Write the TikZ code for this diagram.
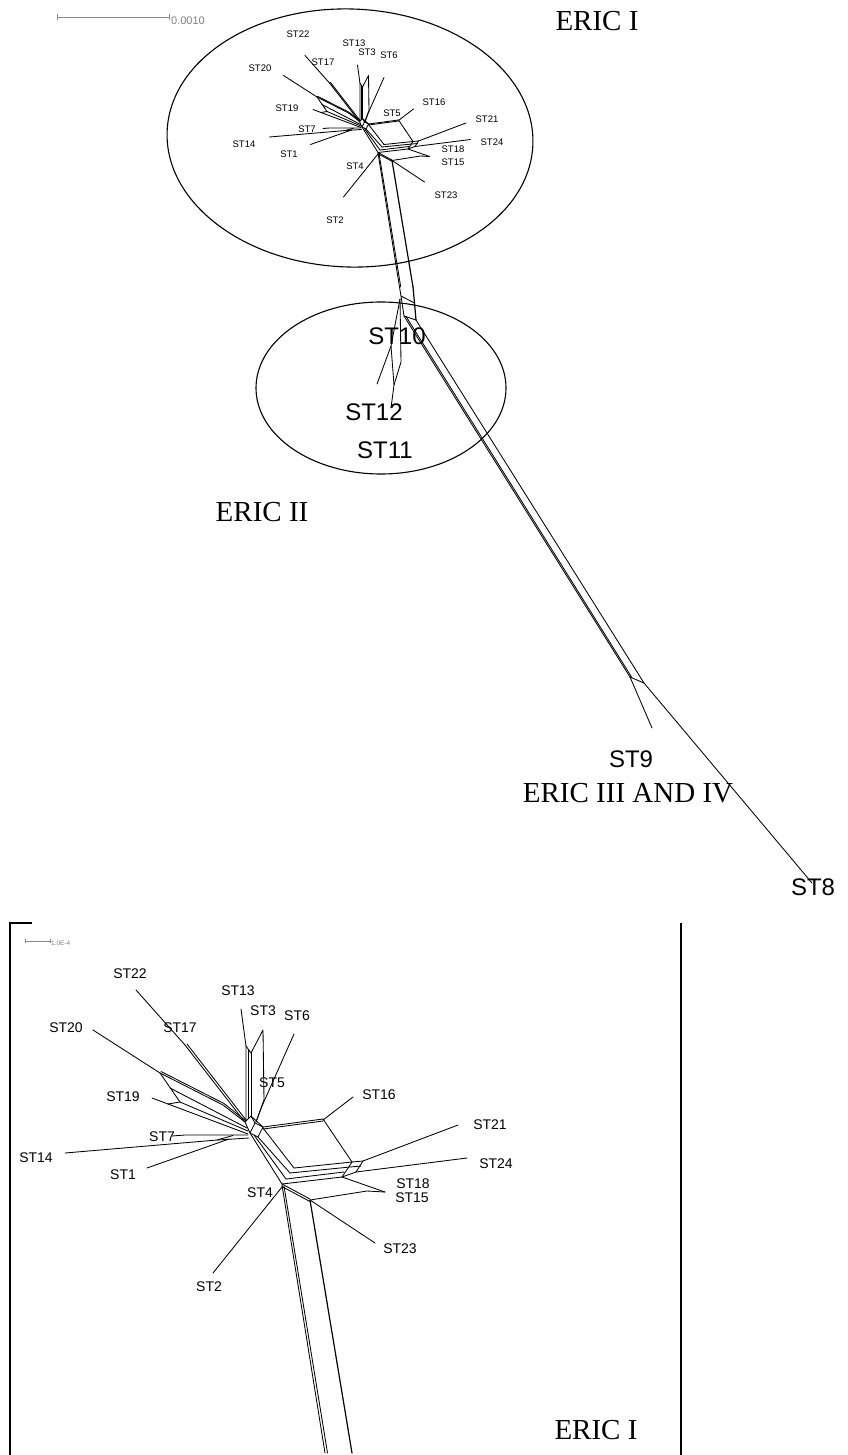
\documentclass[tikz,border=0pt]{standalone}
\usepackage{fontspec}
\setmainfont{Liberation Serif}
\newfontfamily\hv{Liberation Sans}
\newcommand\netlines{%
 % ST22 / ST17
 \draw[net] (136,990)--(185,1045);
 \draw[net] (185,1045)--(244,1121);
 \draw[net] (187,1044)--(246,1120);
 % ST20
 \draw[net] (93,1030)--(160,1073);
 \draw[net] (160,1073)--(223,1105)--(245,1122);
 \draw[net] (161,1071.5)--(224,1103.5)--(246,1121);
 \draw[net] (160,1073)--(180,1102);
 \draw[net] (170,1088)--(247,1128);
 \draw[net] (180,1102)--(248,1131);
 % ST19
 \draw[net] (152,1098)--(168,1104)--(180,1102);
 \draw[net] (168,1104)--(248,1134);
 % ST7 / ST14 / ST1
 \draw[net] (172,1136)--(185,1135)--(248,1135);
 \draw[net] (65,1153)--(217,1140)--(233,1135.5);
 \draw[net] (217,1140)--(249,1138);
 \draw[net] (147,1168)--(229,1139);
 % ST13 / ST3
 \draw[net] (241,1009)--(246,1046)--(246,1120);
 \draw[net] (246,1046)--(251,1053)--(263,1030)--(264,1100)--(256,1122);
 \draw[net] (248.5,1049.5)--(248.5,1118);
 \draw[net] (251,1053)--(251,1117);
 % ST6
 \draw[net] (294,1034)--(262,1106)--(256,1122);
 % hub
 \draw[net] (245,1122)--(251,1116)--(263,1127)--(258,1137)--(250,1133)--cycle;
 \draw[net] (251,1116)--(255,1123)--(250,1133);
 \draw[net] (255,1123)--(263,1127);
 % central box
 \draw[net] (263,1127)--(323,1119)--(352,1162);
 \draw[net] (263,1129)--(323,1121);
 \draw[net] (323,1120)--(353,1097);
 \draw[net] (250,1133)--(282,1184);
 \draw[net] (254,1135)--(286,1179);
 \draw[net] (258,1137)--(290,1173);
 \draw[net] (263,1128)--(294,1168);
 \draw[net] (294,1168)--(352,1162)--(363,1161);
 \draw[net] (290,1173)--(350,1167)--(361,1166);
 \draw[net] (286,1179)--(344,1172);
 \draw[net] (282,1184)--(342,1177)--(356,1172);
 \draw[net] (352,1162)--(342,1177);
 \draw[net] (363,1161)--(356,1172);
 \draw[net] (363,1161)--(458,1125);
 \draw[net] (356,1172)--(467,1158);
 \draw[net] (342,1177)--(385,1192);
 \draw[net] (310,1200)--(367,1191)--(385,1192);
 \draw[net] (282,1184)--(310,1199);
 \draw[net] (282,1186.5)--(310,1201.5);
 \draw[net] (282,1187)--(213,1273);
 \draw[net] (310,1200)--(375,1243);
 % trunk
 \draw[net] (282,1185)--(325,1453);
 \draw[net] (284,1186)--(327.5,1453);
 \draw[net,line width=1.2pt] (310,1200)--(352,1453);
}
\begin{document}
\begin{tikzpicture}[x=1pt,y=-1pt,
  net/.style={line width=0.85pt,line join=round,line cap=round},
  frame/.style={line width=1.4pt},
  bar/.style={draw=black!45,line width=0.8pt},
  barlab/.style={text=black!50,inner sep=0pt,anchor=west},
  lbs/.style={inner sep=0pt,font=\hv\fontsize{9.5}{10}\selectfont},
  lbb/.style={inner sep=0pt,font=\hv\fontsize{14}{15}\selectfont},
  lbl/.style={inner sep=0pt,font=\hv\fontsize{24}{25}\selectfont},
  eric/.style={inner sep=0pt,font=\fontsize{29}{30}\selectfont},
  clus/.style={line width=1.1pt}]
\useasboundingbox (0,0) rectangle (847,1455);
\fill[white] (0,0) rectangle (847,1455);

% ---------- top scale bar
\draw[bar] (57,17)--(169,17) (57,14)--(57,20) (169,14)--(169,20);
\node[barlab,font=\hv\fontsize{11}{12}\selectfont] (sb1) at (171,21) {0.0010};

% ---------- cluster ellipses
\draw[clus,rotate around={-2:(350,138)}] (350,138) ellipse [x radius=183, y radius=129];
\draw[clus] (381,388) ellipse [x radius=125, y radius=86];

% ---------- top network (half scale)
\begin{scope}[shift={(237,-439.5)},scale=0.5]
 \netlines
\end{scope}
% trunk continuation towards ST10 / ST12 / ST11
\coordinate (T1) at (401,296);
\coordinate (T2) at (414.5,303);
\coordinate (U1) at (404,316);
\coordinate (U2) at (416,320);
\coordinate (L1) at (630,677);
\coordinate (R1) at (644,683);
\draw[net] (399.5,287)--(T1)--(U1);
\draw[net,line width=1.2pt] (413,287)--(T2)--(U2);
\draw[net] (T1)--(T2);
\draw[net] (U1)--(U2);
\draw[net] (U1)--(L1);
\draw[net] (406.2,316.7)--(631.8,677.4);
\draw[net] (U2)--(R1);
\draw[net] (L1)--(R1);
\coordinate (E9) at (652,728);
\coordinate (E8) at (812,883);
\draw[net] (L1)--(E9);
\draw[net] (R1)--(E8);
\coordinate (S0) at (400,299);
\coordinate (Sa) at (401,362);
\coordinate (Sb) at (391,346);
\coordinate (Sc) at (394,385);
\coordinate (E12) at (377,384);
\coordinate (E11) at (391,408);
\draw[net] (S0)--(Sa)--(Sc);
\draw[net] (S0)--(Sb)--(E12);
\draw[net] (Sb)--(Sc)--(E11);

% ---------- top labels
\node[lbs] (t22) at (298,34) {ST22};
\node[lbs] (t13) at (354,43) {ST13};
\node[lbs] (t3)  at (367,52) {ST3};
\node[lbs] (t6)  at (389,55) {ST6};
\node[lbs] (t17) at (323,62) {ST17};
\node[lbs] (t20) at (260,68) {ST20};
\node[lbs] (t19) at (287,108) {ST19};
\node[lbs] (t7)  at (307,129) {ST7};
\node[lbs] (t14) at (244,144) {ST14};
\node[lbs] (t1)  at (289,154) {ST1};
\node[lbs] (t4)  at (355,166) {ST4};
\node[lbs] (t2)  at (335,220) {ST2};
\node[lbs] (t5)  at (392,113) {ST5};
\node[lbs] (t16) at (434,102) {ST16};
\node[lbs] (t21) at (487,119) {ST21};
\node[lbs] (t24) at (492,142) {ST24};
\node[lbs] (t18) at (453,149) {ST18};
\node[lbs] (t15) at (453,162) {ST15};
\node[lbs] (t23) at (446,195) {ST23};

\node[lbl] (n10) at (397,336) {ST10};
\node[lbl] (n12) at (374,412) {ST12};
\node[lbl] (n11) at (385,450) {ST11};
\node[lbl] (n9)  at (631,759) {ST9};
\node[lbl] (n8)  at (813,887) {ST8};

\node[eric] (e1) at (597,21) {ERIC I};
\node[eric] (e2) at (262,512) {ERIC II};
\node[eric] (e3) at (628,793) {ERIC III AND IV};

% ---------- bottom inset
\draw[frame] (32,923)--(10,923)--(10,1455);
\draw[frame] (681,923)--(681,1455);
\draw[bar,line width=0.6pt] (25,941)--(50,941) (25,939)--(25,943) (50,939)--(50,943);
\node[barlab,font=\hv\fontsize{6.5}{7}\selectfont] (sb2) at (51,943) {1.0E-4};
\begin{scope}
 \clip (0,900) rectangle (847,1455);
 \netlines
\end{scope}
\node[lbb] (b22) at (130,974) {ST22};
\node[lbb] (b13) at (238,991) {ST13};
\node[lbb] (b3)  at (263,1011) {ST3};
\node[lbb] (b6)  at (297,1016) {ST6};
\node[lbb] (b20) at (66,1028) {ST20};
\node[lbb] (b17) at (180,1028) {ST17};
\node[lbb] (b5)  at (272,1083) {ST5};
\node[lbb] (b19) at (123,1097) {ST19};
\node[lbb] (b16) at (379,1095) {ST16};
\node[lbb] (b7)  at (162,1137) {ST7};
\node[lbb] (b14) at (36,1158) {ST14};
\node[lbb] (b1)  at (123,1175) {ST1};
\node[lbb] (b4)  at (260,1193) {ST4};
\node[lbb] (b18) at (413,1184) {ST18};
\node[lbb] (b15) at (412,1198) {ST15};
\node[lbb] (b23) at (400,1249) {ST23};
\node[lbb] (b2)  at (209,1287) {ST2};
\node[lbb] (b21) at (490,1125) {ST21};
\node[lbb] (b24) at (496,1164) {ST24};
\node[eric] (e4) at (596,1430) {ERIC I};
\end{tikzpicture}
\end{document}
